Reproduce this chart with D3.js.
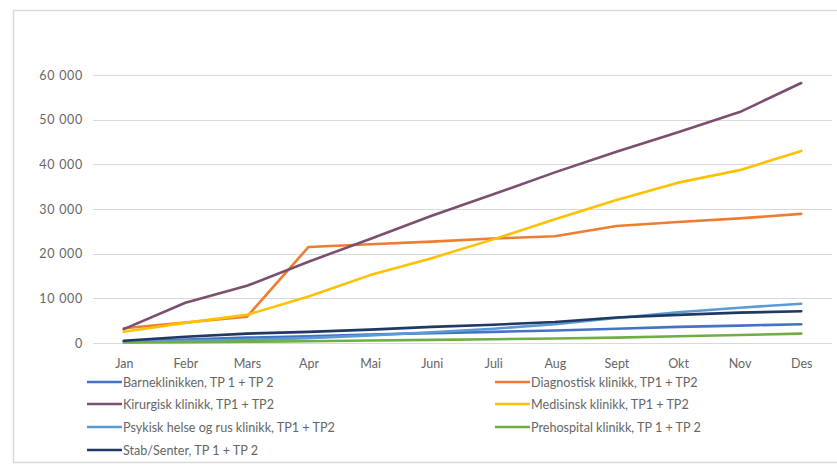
<!DOCTYPE html>
<html>
<head>
<meta charset="utf-8">
<script src="https://cdn.jsdelivr.net/npm/d3@7"></script>
<style>
  html, body { margin: 0; padding: 0; background: #fff; }
  svg { display: block; }
  text { font-family: Lato, "Open Sans", sans-serif; fill: #666; }
</style>
</head>
<body>
<svg id="chart" width="837" height="465"></svg>
<script>
const months = ["Jan","Febr","Mars","Apr","Mai","Juni","Juli","Aug","Sept","Okt","Nov","Des"];
const yTicks = [0, 10000, 20000, 30000, 40000, 50000, 60000];

const seriesNames = [
  "Barneklinikken, TP 1 + TP 2",
  "Diagnostisk klinikk, TP1 + TP2",
  "Kirurgisk klinikk, TP1 + TP2",
  "Medisinsk klinikk, TP1 + TP2",
  "Psykisk helse og rus klinikk, TP1 + TP2",
  "Prehospital klinikk, TP 1 + TP 2",
  "Stab/Senter, TP 1 + TP 2"
];
const seriesColors = ["#4472C4", "#ED7D31", "#7B4F6E", "#FFC000", "#5B9BD5", "#70AD47", "#203864"];

const barne       = [300, 800, 1200, 1500, 1900, 2200, 2500, 2800, 3200, 3600, 3900, 4200];
const diagnostisk = [3300, 4600, 5900, 21500, 22100, 22700, 23400, 23900, 26200, 27100, 27900, 28900];
const kirurgisk   = [3100, 9000, 12800, 18200, 23300, 28500, 33300, 38200, 42800, 47200, 51700, 58200];
const medisinsk   = [2500, 4500, 6300, 10400, 15200, 19000, 23200, 27700, 32000, 35900, 38700, 43000];
const psykisk     = [200, 500, 700, 1100, 1700, 2400, 3200, 4200, 5600, 6900, 7900, 8800];
const prehospital = [100, 200, 300, 400, 550, 700, 850, 1000, 1200, 1500, 1800, 2100];
const stab        = [500, 1400, 2100, 2500, 3000, 3600, 4100, 4700, 5700, 6300, 6800, 7100];

const seriesValues = [barne, diagnostisk, kirurgisk, medisinsk, psykisk, prehospital, stab];

const svg = d3.select("#chart");

// frame
svg.append("rect")
  .attr("x", 13.5).attr("y", 10.5)
  .attr("width", 840).attr("height", 452)
  .attr("fill", "#fff").attr("stroke", "#d9d9d9").attr("stroke-width", 1.5);

const plotLeft = 93, plotRight = 832;
const x = d3.scalePoint().domain(months).range([plotLeft, plotRight]).padding(0.5);
const y = d3.scaleLinear().domain([0, 60000]).range([343, 75]);

// gridlines
svg.append("g").selectAll("line").data(yTicks).join("line")
  .attr("x1", plotLeft).attr("x2", plotRight)
  .attr("y1", d => Math.round(y(d)) + 0.5).attr("y2", d => Math.round(y(d)) + 0.5)
  .attr("stroke", "#d9d9d9").attr("stroke-width", 1);

// y axis labels
const fmt = d => d === 0 ? "0" : d3.format(",")(d).replace(/,/g, " ");
const yAxis = d3.axisLeft(y).tickValues(yTicks).tickSize(0).tickPadding(0).tickFormat(fmt);
const gy = svg.append("g").attr("transform", "translate(83,0)").call(yAxis);
gy.select(".domain").remove();
gy.selectAll("text").attr("font-size", 12.5).attr("fill", "#666")
  .attr("letter-spacing", 0.7)
  .style("font-family", "Lato, 'Open Sans', sans-serif");

// x axis labels
const xAxis = d3.axisBottom(x).tickSize(0).tickPadding(0);
const gx = svg.append("g").attr("transform", "translate(0,359)").call(xAxis);
gx.select(".domain").remove();
gx.selectAll("text").attr("font-size", 12.5).attr("fill", "#666")
  .style("font-family", "Lato, 'Open Sans', sans-serif");

// lines
const line = d3.line().x((d, i) => x(months[i])).y(d => y(d));
svg.append("g").selectAll("path").data(seriesValues).join("path")
  .attr("d", d => line(d))
  .attr("fill", "none")
  .attr("stroke", (d, i) => seriesColors[i])
  .attr("stroke-width", 2.6)
  .attr("stroke-linejoin", "round")
  .attr("stroke-linecap", "round");

// legend
const legendPos = [
  [87, 382], [495, 382],
  [87, 404], [495, 404],
  [87, 427], [495, 427],
  [87, 450]
];
const lg = svg.append("g").selectAll("g").data(seriesNames).join("g")
  .attr("transform", (d, i) => `translate(${legendPos[i][0]},${legendPos[i][1]})`);
lg.append("line")
  .attr("x1", 0).attr("x2", 35).attr("y1", 0).attr("y2", 0)
  .attr("stroke", (d, i) => seriesColors[i]).attr("stroke-width", 2.6);
lg.append("text")
  .attr("x", 36).attr("y", 4.5)
  .attr("font-size", 12.6)
  .text(d => d);
</script>
</body>
</html>
